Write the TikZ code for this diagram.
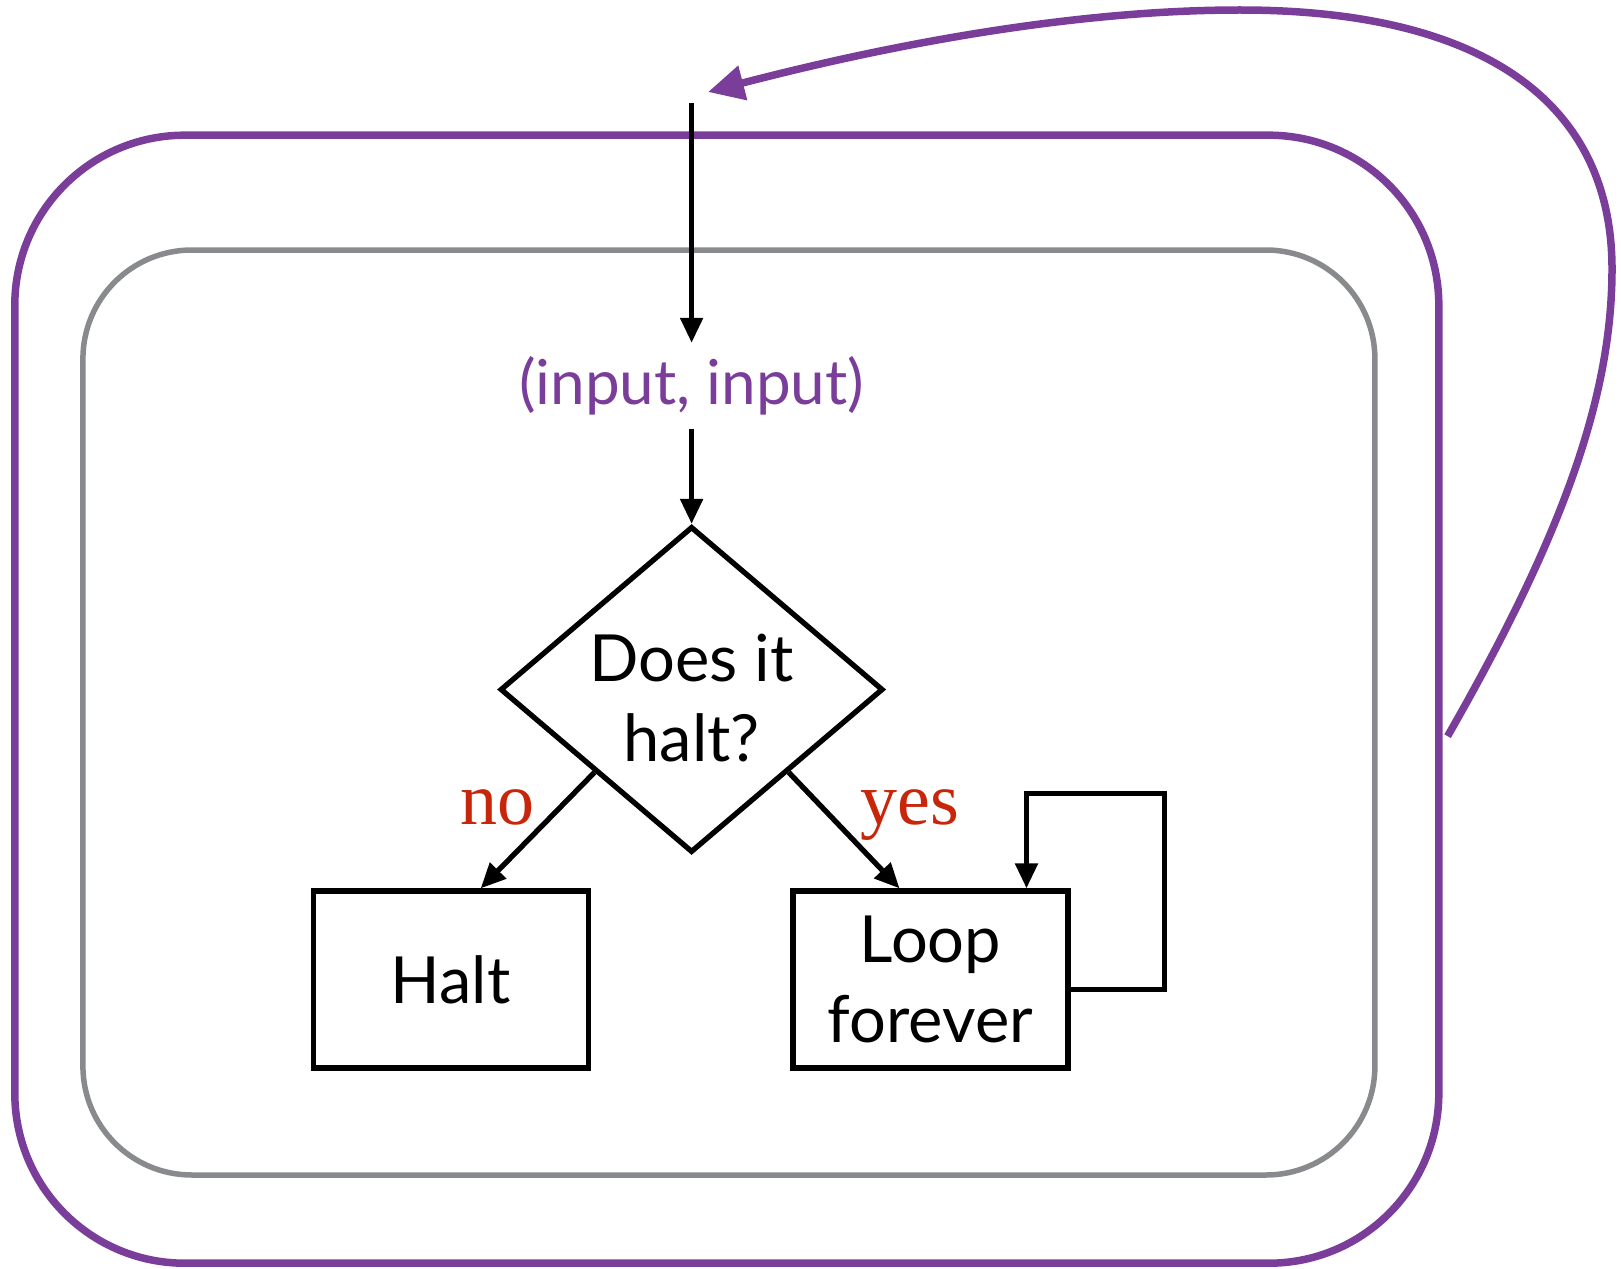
\documentclass[tikz,border=0pt]{standalone}
\usepackage{fontspec}
\setmainfont{Lato}
\newfontfamily\answerfont{Liberation Serif}
\usetikzlibrary{shapes.geometric,arrows.meta,calc}
\definecolor{loopviolet}{RGB}{122,62,154}
\definecolor{answerred}{RGB}{200,38,10}
\definecolor{framegray}{RGB}{136,138,142}

\begin{document}
\begin{tikzpicture}[x=1pt,y=-1pt,
    flow/.style={line width=5.3pt,black,-{Triangle[length=25pt,width=22pt]}},
    label text/.style={font=\fontsize{65}{80}\selectfont,align=center},
    box/.style={draw,line width=5.3pt,minimum width=275pt,minimum height=177pt,
      inner sep=0pt,label text},
    answer/.style={text=answerred,anchor=base,font=\answerfont\fontsize{74}{80}\selectfont}]
  \useasboundingbox (0,0) rectangle (1621,1268);

  % the two frames
  \node[draw=framegray,line width=5.5pt,rounded corners=109pt,
    minimum width=1292pt,minimum height=925pt] (inner) at (728.9,712.5) {};
  \node[draw=loopviolet,line width=7.5pt,rounded corners=170pt,
    minimum width=1424pt,minimum height=1128pt] (outer) at (726.8,699.2) {};

  % decision
  \coordinate (feed) at (691.6,103);
  \node[text=loopviolet,minimum height=86pt,inner sep=0pt,
    font=\fontsize{62}{80}\selectfont] (pair) at (691.6,386) {(input, input)};
  \node[draw,diamond,line width=5.3pt,aspect=1.18,minimum width=383pt,
    minimum height=326pt,inner sep=0pt] (halts) at (691.6,689.5) {};
  \node[label text] (question) at ($(halts)+(0,9)$) {Does it\\halt?};
  \draw[flow] (feed) -- (pair.north);
  \draw[flow] (pair.south) -- (halts.north);

  % outcomes
  \node[box] (halt) at (450.7,979.5) {Halt};
  \node[box] (loop) at (930.5,979.5) {Loop\\forever};
  \draw[flow] (halts.south west) -- ($(halt.north)+(30,0)$);
  \draw[flow] (halts.south east) -- ($(loop.north)+(-31,0)$);
  \node[answer] (no) at (497,824) {no};
  \node[answer] (yes) at (910,824) {yes};
  \draw[flow] ($(loop.east)+(0,10)$) -- ++(94,0) -- ++(0,-196) -| ($(loop.north)+(96,0)$);

  % feed the machine back into itself
  \coordinate (back) at ($(outer.east)+(5,37)$);
  \coordinate (entry) at (708,92);
  \draw[loopviolet,line width=7.5pt,-{Triangle[length=36pt,width=34pt]}]
    (back) .. controls (1560,540) and (1612,400) .. (1612,269)
    .. controls (1612,100) and (1480,10) .. (1240,10)
    .. controls (1050,10) and (850,55) .. (entry);
\end{tikzpicture}
\end{document}
